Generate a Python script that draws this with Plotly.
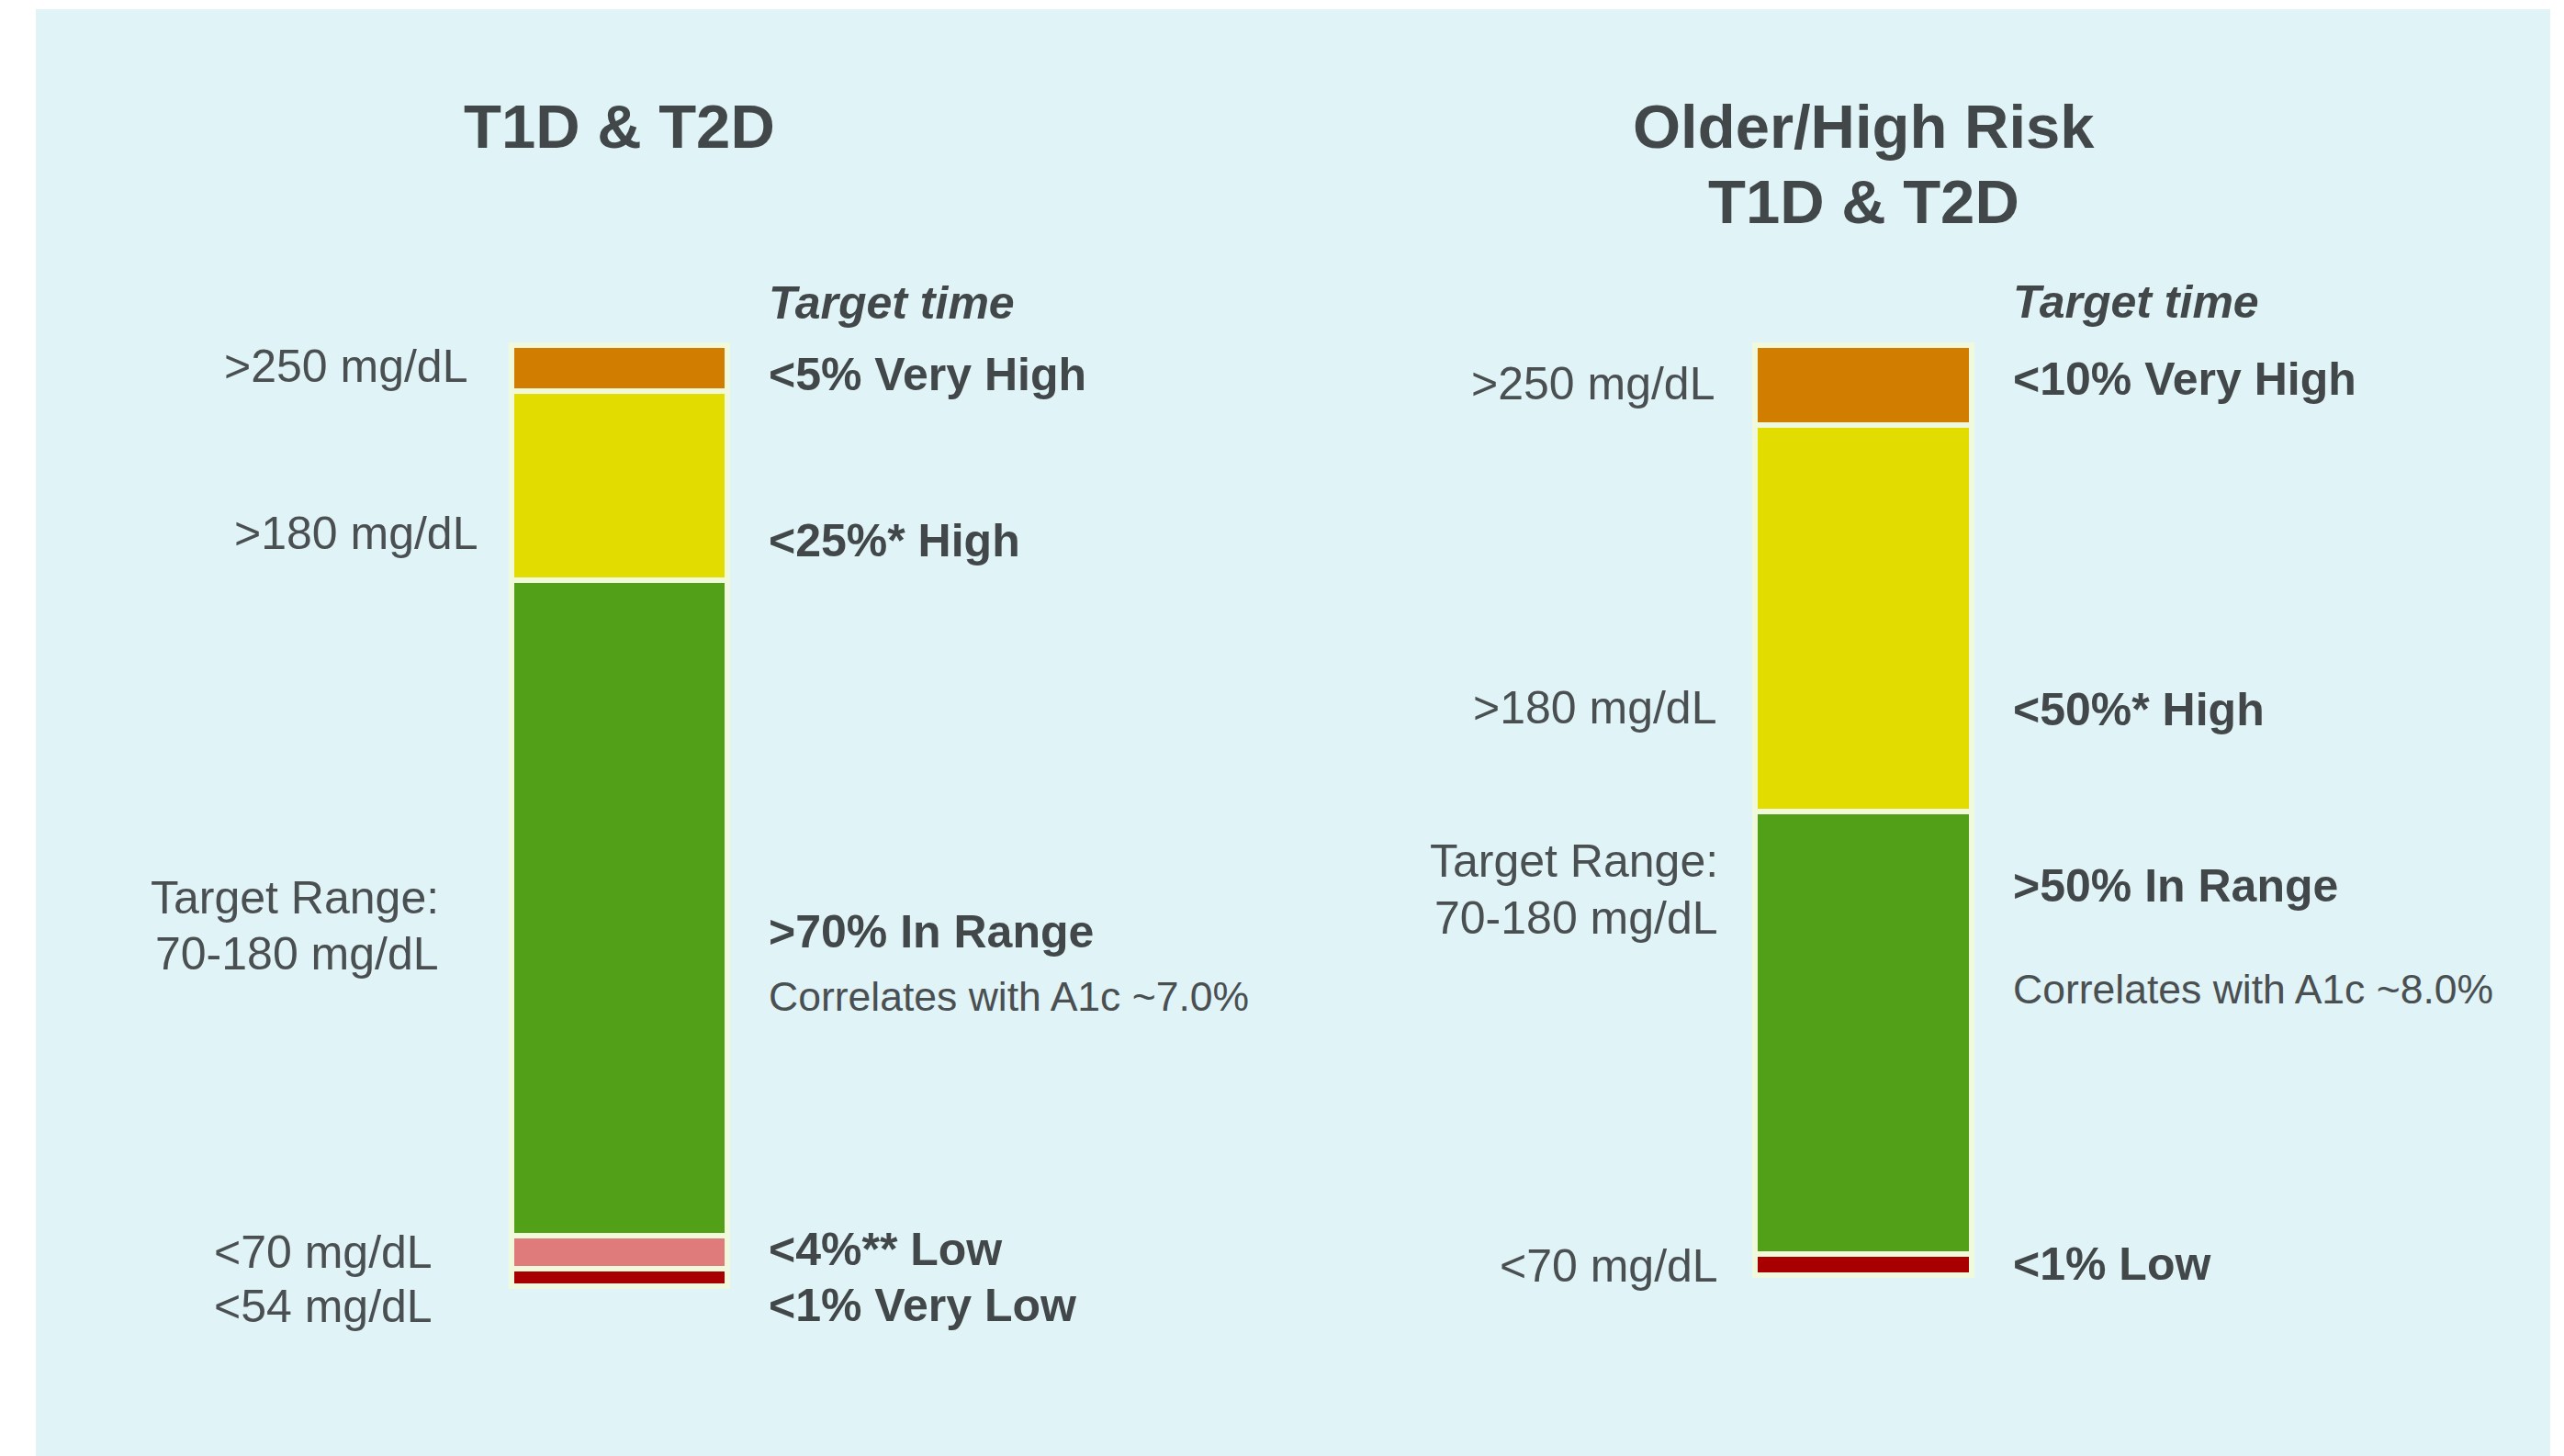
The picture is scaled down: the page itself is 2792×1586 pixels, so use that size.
import plotly.graph_objects as go

# ---------------- data ----------------
panels = ["T1D & T2D", "Older/High Risk T1D & T2D"]

left_segments = ["Very High", "High", "In Range", "Low", "Very Low"]
left_values = [4.9, 20.2, 70.0, 3.5, 1.9]          # stacked from the top
left_colors = ["#D17E00", "#E3DC00", "#52A018", "#E07B7B", "#A80000"]
left_targets = ["<5% Very High", "<25%* High", ">70% In Range", "<4%** Low", "<1% Very Low"]
left_thresholds = [">250 mg/dL", ">180 mg/dL", "Target Range:", "70-180 mg/dL", "<70 mg/dL", "<54 mg/dL"]
left_note = "Correlates with A1c ~7.0%"

right_segments = ["Very High", "High", "In Range", "Low"]
right_values = [8.5, 41.3, 47.3, 2.2]
right_colors = ["#D17E00", "#E3DC00", "#52A018", "#A80000"]
right_targets = ["<10% Very High", "<50%* High", ">50% In Range", "<1% Low"]
right_thresholds = [">250 mg/dL", ">180 mg/dL", "Target Range:", "70-180 mg/dL", "<70 mg/dL"]
right_note = "Correlates with A1c ~8.0%"

titles = [["T1D & T2D"], ["Older/High Risk", "T1D & T2D"]]

# ---------------- figure ----------------
W, H = 2792, 1586
BG = "#E0F3F6"
DARK = "#42474A"
REG = "#4A4F52"
FONT = "Liberation Sans, Arial, sans-serif"
GAP_COLOR = "#F1F9DC"

fig = go.Figure()

for xi, (segs, vals, cols) in enumerate([(left_segments, left_values, left_colors),
                                         (right_segments, right_values, right_colors)]):
    for s, v, c in zip(segs, vals, cols):
        fig.add_trace(go.Bar(
            x=[xi], y=[v], name=s, width=0.174,
            marker=dict(color=c, line=dict(color=GAP_COLOR, width=6)),
            showlegend=False, hoverinfo="skip",
        ))

def py(p):  # pixel row -> paper y
    return 1 - p / H

ann = []

def add(text, xi, xshift, ypix, size, xanchor, weight="normal", style="normal", color=REG):
    ann.append(dict(text=text, x=xi, xref="x", y=py(ypix), yref="paper",
                    xanchor=xanchor, yanchor="middle", xshift=xshift, showarrow=False,
                    font=dict(family=FONT, size=size, color=color, weight=weight, style=style)))

# titles
add(titles[0][0], 0, 0, 137.5, 67, "center", weight="bold", color=DARK)
add(titles[1][0], 1, 0, 137.5, 67, "center", weight="bold", color=DARK)
add(titles[1][1], 1, 0, 219, 67, "center", weight="bold", color=DARK)

# "Target time" headers
add("Target time", 0, 160, 330, 50, "left", weight="bold", style="italic", color=DARK)
add("Target time", 1, 161, 329, 50, "left", weight="bold", style="italic", color=DARK)

# left panel thresholds (right-aligned to the left of the bar)
l_thr_pos = [(-163.5, 399), (-152.5, 581), (-194.5, 978), (-194.5, 1039), (-201.5, 1364), (-201.5, 1423)]
for t, (sx, yp) in zip(left_thresholds, l_thr_pos):
    add(t, 0, sx, yp, 50, "right")
# left targets
l_tgt_pos = [408, 589, 1015, 1361, 1422]
for t, yp in zip(left_targets, l_tgt_pos):
    add(t, 0, 160.5, yp, 50, "left", weight="bold", color=DARK)
add(left_note, 0, 160.5, 1085, 44.5, "left")

# right panel thresholds
r_thr_pos = [(-160, 418), (-158, 771), (-156, 938), (-156, 1000), (-156, 1379)]
for t, (sx, yp) in zip(right_thresholds, r_thr_pos):
    add(t, 1, sx, yp, 50, "right")
r_tgt_pos = [413, 773, 965, 1377]
for t, yp in zip(right_targets, r_tgt_pos):
    add(t, 1, 161, yp, 50, "left", weight="bold", color=DARK)
add(right_note, 1, 161, 1077, 44.5, "left")

px_per_unit_x = 1354.5
x0 = 674.5
px_per_unit_y = 10.2
y0 = 376

fig.update_layout(
    width=W, height=H,
    margin=dict(l=0, r=0, t=0, b=0, pad=0),
    paper_bgcolor="white",
    plot_bgcolor="rgba(0,0,0,0)",
    barmode="stack",
    bargap=0,
    xaxis=dict(range=[-x0 / px_per_unit_x, (W - x0) / px_per_unit_x],
               visible=False, fixedrange=True),
    yaxis=dict(range=[(H - y0) / px_per_unit_y, -y0 / px_per_unit_y],
               visible=False, fixedrange=True),
    shapes=[dict(type="rect", xref="paper", yref="paper",
                 x0=39 / W, x1=2777 / W, y0=0, y1=py(10),
                 fillcolor=BG, line=dict(width=0), layer="below")],
    annotations=ann,
)

fig.write_html("out.html")
